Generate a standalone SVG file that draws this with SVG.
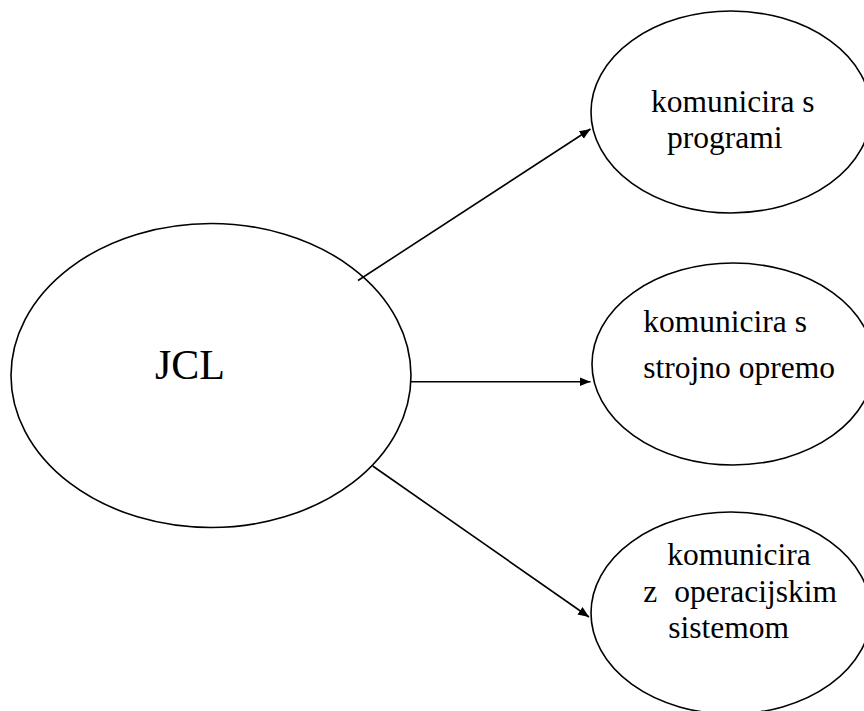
<svg xmlns="http://www.w3.org/2000/svg" width="864" height="711" viewBox="0 0 864 711">
<defs>
<style>
.node ellipse{fill:#fff;stroke:#000;stroke-width:1.6}
.t{font-family:"Liberation Serif","Times New Roman",serif;fill:#000;font-size:31.5px}
.big{font-size:42px}
.conn line{stroke:#000;stroke-width:1.6}
</style>
<marker id="ah" markerUnits="userSpaceOnUse" markerWidth="12" markerHeight="10" refX="11" refY="4.5" orient="auto">
<path d="M0,0 L11,4.5 L0,9 z" fill="#000"/>
</marker>
</defs>
<rect width="864" height="711" fill="#fff"/>
<g id="jcl" class="node">
<ellipse cx="211" cy="375.5" rx="200" ry="152"/>
<text class="t big" x="155" y="379">JCL</text>
</g>
<g id="programi" class="node">
<ellipse cx="731" cy="112" rx="140" ry="101"/>
<text class="t" x="651" y="111.7">komunicira s</text>
<text class="t" x="667" y="148.3">programi</text>
</g>
<g id="strojna" class="node">
<ellipse cx="733" cy="364" rx="141" ry="101"/>
<text class="t" x="643.3" y="331.7">komunicira s</text>
<text class="t" x="643.3" y="378.3">strojno opremo</text>
</g>
<g id="os" class="node">
<ellipse cx="731" cy="613" rx="140" ry="101"/>
<text class="t" x="667.3" y="565">komunicira</text>
<text class="t" y="601.7"><tspan x="643.3">z</tspan><tspan x="674.3">operacijskim</tspan></text>
<text class="t" x="668.3" y="638.3">sistemom</text>
</g>
<g id="connectors" class="conn">
<line x1="358" y1="280.5" x2="590.5" y2="129" marker-end="url(#ah)"/>
<line x1="411" y1="381.7" x2="590.5" y2="381.7" marker-end="url(#ah)"/>
<line x1="372.7" y1="466" x2="589" y2="617" marker-end="url(#ah)"/>
</g>
</svg>
